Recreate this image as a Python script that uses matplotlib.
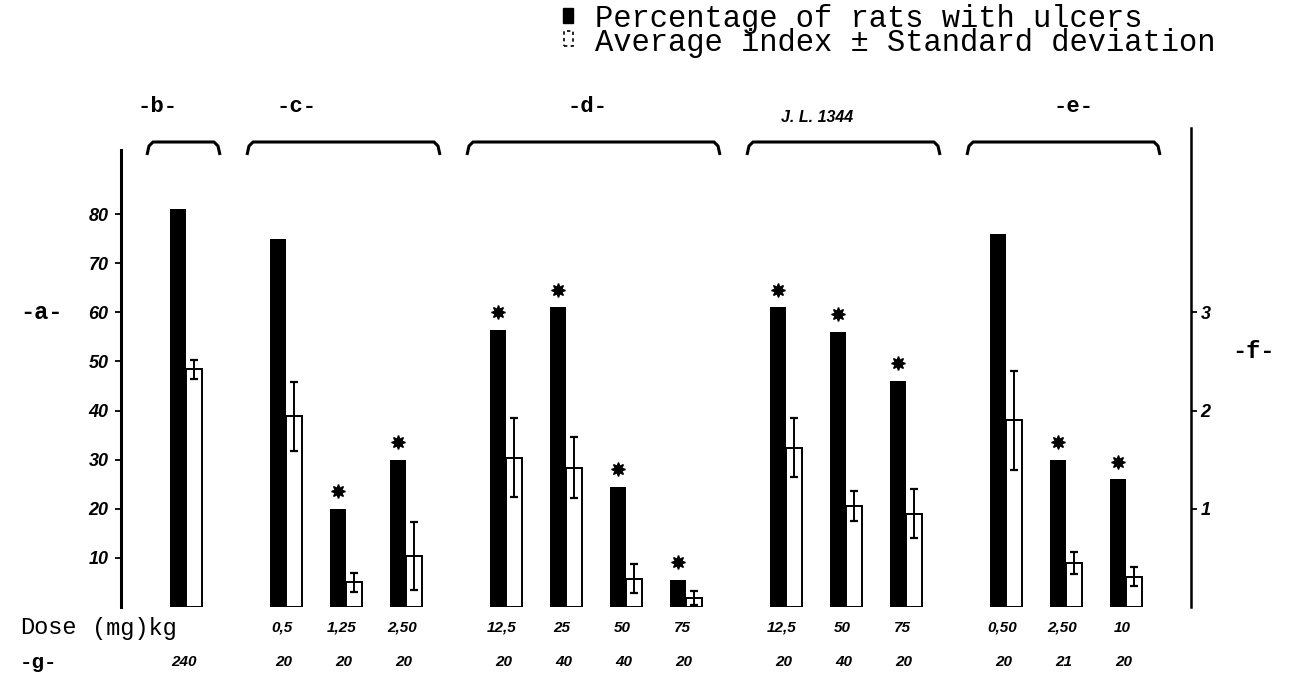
import matplotlib
matplotlib.use("Agg")
import matplotlib.pyplot as plt
import matplotlib.transforms as mtransforms
from matplotlib.patches import Rectangle

# data
group_names = ["-b-", "-c-", "-d-", "J. L. 1344", "-e-"]
group_sizes = [1, 3, 4, 3, 3]
doses = ["", "0,5", "1,25", "2,50", "12,5", "25", "50", "75",
         "12,5", "50", "75", "0,50", "2,50", "10"]
n_rats = ["240", "20", "20", "20", "20", "40", "40", "20",
          "20", "40", "20", "20", "21", "20"]
pct_ulcers = [81, 75, 20, 30, 56.5, 61, 24.5, 5.5, 61, 56, 46, 76, 30, 26]
avg_index = [2.42, 1.94, 0.25, 0.52, 1.52, 1.42, 0.29, 0.09,
             1.62, 1.03, 0.95, 1.90, 0.45, 0.31]
std_dev = [0.10, 0.35, 0.10, 0.35, 0.40, 0.31, 0.15, 0.07,
           0.30, 0.15, 0.25, 0.50, 0.11, 0.10]
significant = [False, False, True, True, True, True, True, True,
               True, True, True, False, True, True]
legend_labels = ["Percentage of rats with ulcers",
                 "Average index \u00b1 Standard deviation"]

mono = "Liberation Mono"
num_font = dict(family="Liberation Sans", style="italic", weight="bold")

# x layout: 60 between bars of one group, 100 between groups
xs = []
group_x = []
pos = 0
for gi, size in enumerate(group_sizes):
    if gi > 0:
        pos += 100
    first = pos
    for k in range(size):
        if k > 0:
            pos += 60
        xs.append(pos)
    group_x.append((first, pos))

fig = plt.figure(figsize=(12.89, 6.78), dpi=100)
ax = fig.add_axes([121 / 1289, 1 - 607 / 678, (1191 - 121) / 1289, (607 - 128) / 678])
ax2 = ax.twinx()

ax.set_xlim(-57, 1013)
ax.set_ylim(0, 97.55)
ax2.set_ylim(0, 97.55 / 20)

bw = 16
ax.bar([x - 8 for x in xs], pct_ulcers, width=bw, align="edge", color="black", zorder=2)
ax2.bar([x + 8 for x in xs], avg_index, width=bw, align="edge", color="white",
        edgecolor="black", linewidth=1.4, zorder=2)
ax2.errorbar([x + 16 for x in xs], avg_index, yerr=std_dev, fmt="none",
             ecolor="black", elinewidth=1.4, capsize=3, capthick=1.6, zorder=3)

# significance stars
sx = [x for x, s in zip(xs, significant) if s]
sy = [p + 3.6 for p, s in zip(pct_ulcers, significant) if s]
ax.plot(sx, sy, linestyle="none", marker=(8, 1, 0), markersize=10,
        color="black", clip_on=False)

# spines and ticks
for a in (ax, ax2):
    for side in ("top", "bottom"):
        a.spines[side].set_visible(False)
    a.set_xticks([])
ax.spines["right"].set_visible(False)
ax2.spines["left"].set_visible(False)
ax.spines["left"].set_linewidth(2.2)
ax.spines["left"].set_bounds(0, 93)
ax2.spines["right"].set_linewidth(1.8)

ax.set_yticks(range(10, 90, 10))
ax.set_yticklabels([str(v) for v in range(10, 90, 10)], **num_font, fontsize=13)
ax.tick_params(axis="y", direction="out", length=4, width=1.3, pad=5)
ax2.set_yticks([1, 2, 3])
ax2.set_yticklabels(["1", "2", "3"], **num_font, fontsize=13)
ax2.tick_params(axis="y", direction="out", length=4, width=1.3, pad=3)

# axis letters
fig.text(20 / 1289, 1 - 312 / 678, "-a-", family=mono, weight="bold",
         fontsize=17, va="center", ha="left")
fig.text(1232 / 1289, 1 - 352 / 678, "-f-", family=mono, weight="bold",
         fontsize=17, va="center", ha="left")

# labels under the bars
tr = mtransforms.blended_transform_factory(ax.transData, fig.transFigure)
for x, d, n in zip(xs, doses, n_rats):
    if d:
        ax.text(x + 4, 1 - 628 / 678, d, transform=tr, ha="center", va="center",
                fontsize=11, **num_font)
    ax.text(x + 6, 1 - 662 / 678, n, transform=tr, ha="center", va="center",
            fontsize=11, **num_font)
fig.text(20 / 1289, 1 - 628 / 678, "Dose", family=mono, fontsize=17,
         va="center", ha="left")
fig.text(92 / 1289, 1 - 628 / 678, "(mg)kg", family=mono, fontsize=17,
         va="center", ha="left")
fig.text(20 / 1289, 1 - 662 / 678, "-g-", family=mono, weight="bold",
         fontsize=15, va="center", ha="left")

# group brackets and names
y_top = 1 - 142 / 678
y_end = 1 - 155 / 678
y_mid = 1 - 146 / 678
label_shift = [-26, -47, -6, -26, 10]
for (x0, x1), name, shift in zip(group_x, group_names, label_shift):
    a = x0 - 8 - 23
    b = x1 + 24 + 18
    ax.plot([a, a + 2, a + 6, b - 6, b - 2, b], [y_end, y_mid, y_top, y_top, y_mid, y_end],
            transform=tr, color="black", linewidth=2.2, clip_on=False,
            solid_capstyle="butt")
    cx = (a + b) / 2 + shift
    if name.startswith("J"):
        ax.text(cx, 1 - 118 / 678, name, transform=tr, ha="center", va="center",
                fontsize=11.5, **num_font)
    else:
        ax.text(cx, 1 - 107 / 678, name, transform=tr, ha="center", va="center",
                family=mono, weight="bold", fontsize=16)

# legend
fig.patches.append(Rectangle((563 / 1289, 1 - 23 / 678), 10 / 1289, 15 / 678,
                             transform=fig.transFigure, facecolor="black",
                             edgecolor="black"))
fig.patches.append(Rectangle((564 / 1289, 1 - 46 / 678), 9 / 1289, 15 / 678,
                             transform=fig.transFigure, facecolor="white",
                             edgecolor="black", linewidth=1.2, linestyle=(0, (2, 2))))
fig.text(595 / 1289, 1 - 4 / 678, "\n".join(legend_labels), family=mono,
         fontsize=22, va="top", ha="left", linespacing=0.74)

fig.savefig("out.png", dpi=100)
plt.close(fig)
